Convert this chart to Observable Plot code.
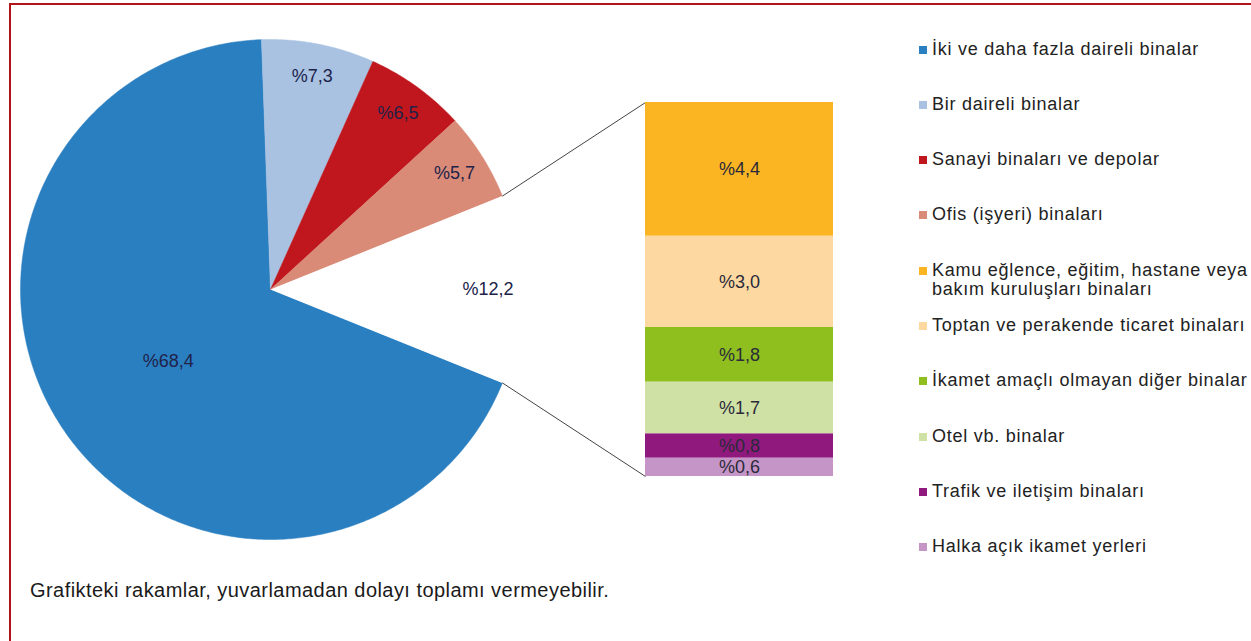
<!DOCTYPE html>
<html>
<head>
<meta charset="utf-8">
<script src="https://cdn.jsdelivr.net/npm/d3@7"></script>
<script src="https://cdn.jsdelivr.net/npm/@observablehq/plot@0.6"></script>
<style>
html, body { margin: 0; padding: 0; background: #fff; overflow: hidden; width: 1251px; height: 641px; }
#frame { position: absolute; left: 9px; top: 3px; width: 1400px; height: 800px; border: 2px solid #b3141a; box-sizing: border-box; }
#chart { position: absolute; left: 0; top: 0; }
.item { position: absolute; left: 932px; font-family: "Liberation Sans", Arial, sans-serif; font-size: 18px; letter-spacing: 0.75px; color: #222; white-space: pre; line-height: 19px; }
.sw { position: absolute; left: -13px; top: 6px; width: 8px; height: 8px; }
#caption { position: absolute; left: 30px; top: 579px; font-family: "Liberation Sans", Arial, sans-serif; font-size: 20px; letter-spacing: 0.45px; color: #1a1a1a; line-height: 22px; white-space: nowrap; }
</style>
</head>
<body>
<div id="frame"></div>
<div id="chart"></div>
<div id="legend"></div>
<div id="caption"></div>
<script>
// ---- data ----
const mainCategories = [
  "İki ve daha fazla daireli binalar",
  "Bir daireli binalar",
  "Sanayi binaları ve depolar",
  "Ofis (işyeri) binaları"
];
const mainValues = [68.4, 7.3, 6.5, 5.7];
const mainColors = ["#2a7fc1", "#a9c2e2", "#c0161d", "#da8b78"];

const otherTotal = 12.2;

const otherCategories = [
  "Kamu eğlence, eğitim, hastane veya\nbakım kuruluşları binaları",
  "Toptan ve perakende ticaret binaları",
  "İkamet amaçlı olmayan diğer binalar",
  "Otel vb. binalar",
  "Trafik ve iletişim binaları",
  "Halka açık ikamet yerleri"
];
const otherValues = [4.4, 3.0, 1.8, 1.7, 0.8, 0.6];
const otherColors = ["#fbb522", "#fdd9a1", "#8ebf1f", "#d0e1a6", "#90197d", "#c595c7"];

const captionText = "Grafikteki rakamlar, yuvarlamadan dolayı toplamı vermeyebilir.";

const fmt = v => "%" + v.toFixed(1).replace(".", ",");

// ---- layout (pixels) ----
const W = 880, H = 641;
const barTop = 102, barBottom = 476, barLeft = 645, barRight = 833;
const pieCx = 270, pieCy = 289, pieR = 250;
const K = barBottom - barTop;            // pixels per unit (bar = 1 unit tall)
const ux = px => px / K;
const uy = px => (barBottom - px) / K;
const cx = ux(pieCx), cy = uy(pieCy), r = pieR / K;

// ---- pie geometry ----
const pieData = mainCategories.map((c, i) => ({key: c, value: mainValues[i], color: mainColors[i]}))
  .concat([{key: "other", value: otherTotal, color: "#ffffff"}]);
const total = d3.sum(pieData, d => d.value);
const before = d3.sum(mainValues);
const start = Math.PI / 2 - (before + otherTotal / 2) / total * 2 * Math.PI;
const arcs = d3.pie().sort(null).value(d => d.value).startAngle(start).endAngle(start + 2 * Math.PI)(pieData);

const pt = (a, rr) => ({x: cx + rr * Math.sin(a), y: cy + rr * Math.cos(a)});
const sliceMarks = arcs.map(a => {
  const n = Math.max(2, Math.ceil((a.endAngle - a.startAngle) / (Math.PI / 360)));
  const pts = [pt(0, 0)];
  for (let i = 0; i <= n; i++) pts.push(pt(a.startAngle + (a.endAngle - a.startAngle) * i / n, r));
  return Plot.line(pts, {x: "x", y: "y", fill: a.data.color, stroke: a.data.color === "#ffffff" ? "none" : a.data.color, strokeWidth: 0.5, curve: "linear-closed"});
});

const pieLabels = arcs.map(a => {
  const m = (a.startAngle + a.endAngle) / 2;
  const p = pt(m, a.data.value > 50 ? r * 0.5 : r * 0.87);
  return {...p, text: fmt(a.data.value)};
});

const otherArc = arcs.find(a => a.data.key === "other");
const e0 = pt(otherArc.startAngle, r), e1 = pt(otherArc.endAngle, r);
const connectors = [
  {x1: e0.x, y1: e0.y, x2: ux(barLeft), y2: 1},
  {x1: e1.x, y1: e1.y, x2: ux(barLeft), y2: 0}
];

const barData = otherCategories.map((c, i) => ({key: c, value: otherValues[i], color: otherColors[i], label: fmt(otherValues[i])}));

const chart = Plot.plot({
  width: W, height: H,
  marginTop: 0, marginRight: 0, marginBottom: 0, marginLeft: 0,
  x: {domain: [0, W / K], axis: null},
  y: {domain: [uy(H), uy(0)], axis: null},
  color: {type: "identity"},
  style: {fontFamily: "'Liberation Sans', Arial, sans-serif", background: "transparent"},
  marks: [
    ...sliceMarks,
    Plot.link(connectors, {x1: "x1", y1: "y1", x2: "x2", y2: "y2", stroke: "#444", strokeWidth: 1}),
    Plot.text(pieLabels, {x: "x", y: "y", text: "text", fontSize: 18, fill: "#20224a"}),
    Plot.rectY(barData, Plot.stackY({x1: ux(barLeft), x2: ux(barRight), y: "value", offset: "normalize", reverse: true, fill: "color"})),
    Plot.text(barData, Plot.stackY({x: ux((barLeft + barRight) / 2), y: "value", offset: "normalize", reverse: true, text: "label", fontSize: 18, fill: "#2a2a3a"}))
  ]
});
document.getElementById("chart").appendChild(chart);

// ---- legend ----
const legendNames = mainCategories.concat(otherCategories);
const legendColors = mainColors.concat(otherColors);
const legend = document.getElementById("legend");
const rowStart = 49, rowStep = 55.33;
legendNames.forEach((name, i) => {
  const div = document.createElement("div");
  div.className = "item";
  div.style.top = (rowStart + i * rowStep - 9.5) + "px";
  const sw = document.createElement("span");
  sw.className = "sw";
  sw.style.background = legendColors[i];
  div.appendChild(sw);
  div.appendChild(document.createTextNode(name));
  legend.appendChild(div);
});

document.getElementById("caption").textContent = captionText;
</script>
</body>
</html>
